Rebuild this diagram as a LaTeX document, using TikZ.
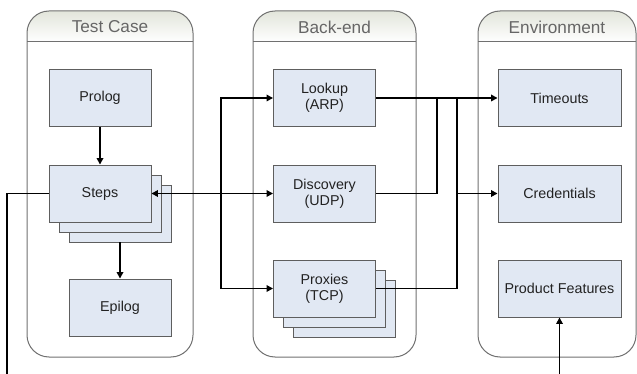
\documentclass[tikz,border=0pt]{standalone}
\usepackage{fontspec}
\setmainfont{Liberation Sans}
\usetikzlibrary{arrows.meta}
\definecolor{boxfill}{HTML}{E1E8F3}
\definecolor{boxline}{HTML}{5E5E5E}
\definecolor{laneline}{HTML}{707070}
\definecolor{headtop}{HTML}{E2E5DB}
\definecolor{headtxt}{HTML}{666666}
\definecolor{txt}{HTML}{222222}
\tikzset{
  blk/.style={draw=boxline, fill=boxfill, line width=0.9pt, minimum width=102pt, minimum height=57pt, inner sep=0pt, align=center, font=\fontsize{14.3}{16}\selectfont, text=txt},
  wblk/.style={blk, minimum width=123pt},
  conn/.style={line width=1.6pt, black},
  arr/.style={conn, -{Triangle[length=6.5pt,width=6.5pt]}},
  lanetitle/.style={font=\fontsize{17.2}{19}\selectfont, text=headtxt, inner sep=0pt},
}
\newcommand{\lane}[2]{%
  \begin{scope}
    \clip[rounded corners=22pt] (#1,11) rectangle (#2,357);
    \shade[top color=headtop, bottom color=white] (#1,11) rectangle (#2,42);
  \end{scope}
  \draw[laneline, line width=1pt, rounded corners=22pt] (#1,11) rectangle (#2,357);
  \draw[laneline, line width=1pt] (#1,42) -- (#2,42);
}
\begin{document}
\begin{tikzpicture}[x=1pt,y=-1pt]
\useasboundingbox (0,0) rectangle (637,374);
\lane{27}{193}
\lane{253}{416}
\lane{478}{636}
\node[lanetitle] (tcT) at (110,27) {Test Case};
\node[lanetitle] (beT) at (334.5,27) {Back-end};
\node[lanetitle] (envT) at (557,27) {Environment};

% Test case column
\node[blk] (prolog) at (100,98) {Prolog};
\node[blk] (steps3) at (120,213.5) {};
\node[blk] (steps2) at (110,203.5) {};
\node[blk] (steps) at (100,193.5) {Steps};
\node[blk] (epilog) at (120,307.5) {Epilog};

% Back-end column
\node[blk] (lookup) at (324.5,98) {Lookup\\(ARP)};
\node[blk] (discovery) at (324.5,193.5) {Discovery\\(UDP)};
\node[blk] (proxies3) at (344.5,308.5) {};
\node[blk] (proxies2) at (334.5,298.5) {};
\node[blk] (proxies) at (324.5,288.5) {Proxies\\(TCP)};

% Environment column
\node[wblk] (timeouts) at (559.5,98) {Timeouts};
\node[wblk] (credentials) at (559.5,193.5) {Credentials};
\node[wblk] (features) at (559.5,288.5) {Product Features};

\coordinate (bl) at (7,374);
\coordinate (br) at (559.5,374);
\coordinate (bx) at (221,193.5);
\coordinate (jd) at (437,98);
\coordinate (jp) at (457,98);

% connectors
\draw[arr] (prolog.south) -- (steps.north);
\draw[arr] (steps3.south) -- (epilog.north);
\draw[conn] (steps.west) -| (bl);
\draw[arr] (br) -- (features.south);
\draw[arr] (bx) -- (steps.east);
\draw[arr] (bx) -- (discovery.west);
\draw[arr] (bx) |- (lookup.west);
\draw[arr] (bx) |- (proxies.west);
\draw[arr] (lookup.east) -- (timeouts.west);
\draw[conn] (discovery.east) -| (jd);
\draw[conn] (proxies.east) -| (jp);
\draw[arr] (jp |- credentials.west) -- (credentials.west);
\end{tikzpicture}
\end{document}
